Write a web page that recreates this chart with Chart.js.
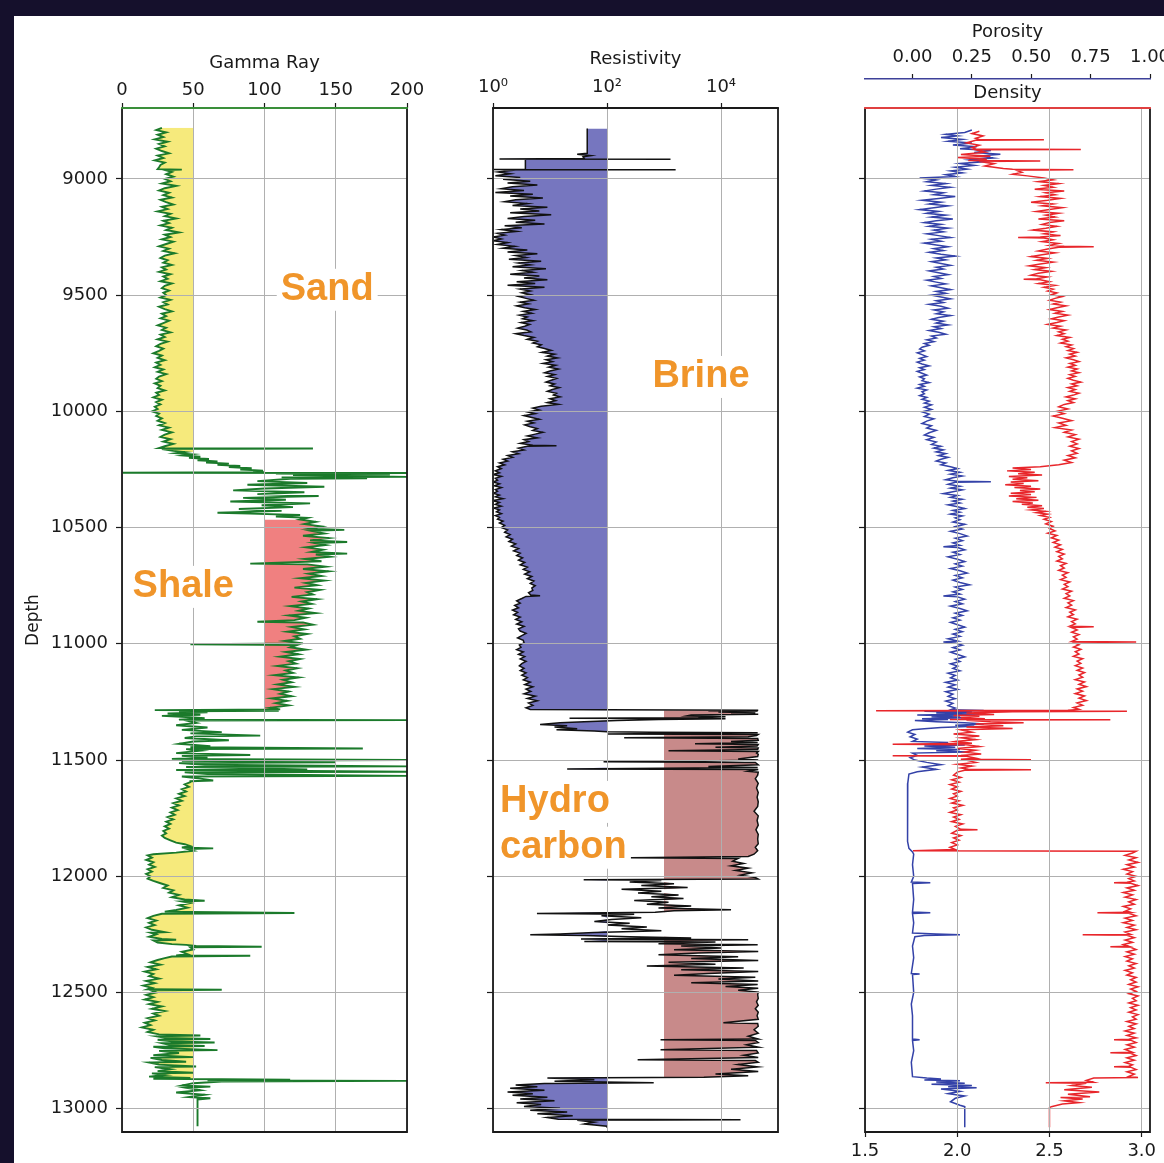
<!DOCTYPE html>
<html>
<head>
<meta charset="utf-8">
<title>Well log</title>
<script src="https://cdn.jsdelivr.net/npm/chart.js@4.4.1/dist/chart.umd.min.js"></script>
<style>
  html, body { margin: 0; width: 1164px; height: 1163px; overflow: hidden; background: #15102c; }
  #sheet { position: absolute; left: 14px; top: 16px; right: 0; bottom: 0; background: #fff; }
  canvas { position: absolute; left: 0; top: 0; }
</style>
</head>
<body>
<div id="sheet"></div>
<canvas id="grTrack" width="1200" height="1163"></canvas>
<canvas id="resTrack" width="1200" height="1163"></canvas>
<canvas id="rhoTrack" width="1200" height="1163"></canvas>
<script>
// depth window and ticks
const depthMin = 8695;
const depthMax = 13100;
const depthTicks = [9000, 9500, 10000, 10500, 11000, 11500, 12000, 12500, 13000];
const grTicks = [0, 50, 100, 150, 200];
const resTicks = [1, 100, 10000];
const resTickLabels = ['10⁰', '10²', '10⁴'];
const densTicks = [1.5, 2.0, 2.5, 3.0];
const porTicks = [0, 0.25, 0.5, 0.75, 1.0];

// shading cutoffs and zones (depth ft)
const sandCut = 50, shaleCut = 100, brineCut = 100, hcCut = 1000;
const sandZones = [[8780, 10175], [11585, 12880]];
const shaleZones = [[10460, 11284]];
const hcZones = [[11284, 12870]];

// [depth, API]
const gammaRay = [
[8780,28],[8790,24],[8800,31],[8810,25],[8820,29],[8830,23],[8840,32],[8850,26],[8860,30],[8870,24],[8880,28],[8890,33],[8900,25],[8910,29],[8920,23],[8930,30],[8940,27],[8950,26],[8958,25],[8960,42],[8962,30],[8970,35],[8980,31],[8990,36],[9000,30],[9010,34],[9020,28],[9030,38],[9040,30],[9050,26],[9060,33],[9070,29],[9080,35],[9090,27],[9100,31],[9110,36],[9120,28],[9130,32],[9140,25],[9150,34],[9160,30],[9170,38],[9180,29],[9190,33],[9200,27],[9210,35],[9220,31],[9230,40],[9240,30],[9250,34],[9260,28],[9270,36],[9280,31],[9290,26],[9300,33],[9310,29],[9320,37],[9330,30],[9340,27],[9350,32],[9360,29],[9370,35],[9380,28],[9390,31],[9400,26],[9410,34],[9420,29],[9430,32],[9440,27],[9450,35],[9460,30],[9470,28],[9480,33],[9490,29],[9500,31],[9510,27],[9520,34],[9530,29],[9540,32],[9550,26],[9560,30],[9570,35],[9580,28],[9590,31],[9600,27],[9610,33],[9620,29],[9630,25],[9640,31],[9650,28],[9660,34],[9670,27],[9680,30],[9690,25],[9700,32],[9710,27],[9720,24],[9730,29],[9740,26],[9750,22],[9760,28],[9770,25],[9780,30],[9790,24],[9800,27],[9810,23],[9820,29],[9830,25],[9840,31],[9850,26],[9860,24],[9870,28],[9880,23],[9890,27],[9900,25],[9910,30],[9920,24],[9930,26],[9940,22],[9950,28],[9960,24],[9970,27],[9980,23],[9990,25],[10000,21],[10010,26],[10020,24],[10030,28],[10040,25],[10050,30],[10060,26],[10070,33],[10080,28],[10090,35],[10100,30],[10110,27],[10120,34],[10130,29],[10140,36],[10150,30],[10158,26],[10160,134],[10162,28],
[10170,36],[10175,44],[10180,38],[10185,49],[10190,43],[10195,55],[10200,47],[10205,61],[10210,53],[10215,67],[10220,59],[10225,75],[10230,67],[10235,83],[10240,75],[10245,91],[10250,83],[10255,99],[10258,92],[10262,100],[10264,0],[10265,200],[10267,108],[10272,188],[10274,120],[10282,200],[10284,112],[10288,172],[10290,118],
[10300,95],[10308,130],[10316,88],[10324,142],[10332,100],[10340,78],[10348,128],[10356,95],[10364,138],[10372,85],[10380,115],[10388,76],[10396,132],[10404,98],[10412,120],[10420,82],[10428,112],[10436,67],[10440,90],[10446,125],[10452,108],[10458,130],
[10465,125],[10475,136],[10485,128],[10495,140],[10505,131],[10510,156],[10514,133],[10525,142],[10535,127],[10545,145],[10555,132],[10562,158],[10566,135],[10575,143],[10585,129],[10595,141],[10605,133],[10612,158],[10616,136],[10625,146],[10635,128],[10645,140],[10655,90],[10658,130],[10668,143],[10678,127],[10688,145],[10698,131],[10708,140],[10718,125],[10728,142],[10738,129],[10748,137],[10758,121],[10768,139],[10778,130],[10788,134],[10798,119],[10808,137],[10818,126],[10828,133],[10838,118],[10848,131],[10858,124],[10868,136],[10878,117],[10888,129],[10898,121],[10905,95],[10908,127],[10918,134],[10928,119],[10938,128],[10948,116],[10958,130],[10968,121],[10978,125],[10988,114],[10998,127],[11002,48],[11005,123],[11015,118],[11025,129],[11035,115],[11045,124],[11055,111],[11065,125],[11075,117],[11085,122],[11095,109],[11105,123],[11115,115],[11125,120],[11135,107],[11145,124],[11155,113],[11165,119],[11175,109],[11185,121],[11195,106],[11205,117],[11215,111],[11225,119],[11235,105],[11245,116],[11255,108],[11265,117],[11275,104],[11282,111],
[11285,23],[11288,110],[11290,40],[11295,60],[11300,32],[11305,55],[11310,28],[11315,45],[11320,58],[11326,40],[11328,200],[11330,45],[11340,52],[11350,38],[11360,60],[11370,42],[11380,70],[11385,48],[11395,97],[11398,52],[11405,44],[11415,75],[11420,50],[11430,40],[11440,62],[11445,48],[11450,169],[11453,45],[11460,55],[11470,38],[11478,90],[11482,42],[11490,60],[11495,35],[11500,200],[11503,42],[11510,150],[11513,40],[11520,58],[11527,200],[11530,45],[11540,130],[11543,38],[11550,200],[11553,44],[11560,60],[11568,200],[11571,42],[11580,55],[11588,64],[11591,48],
[11595,48],[11605,44],[11615,47],[11625,42],[11635,45],[11645,40],[11655,44],[11665,38],[11675,42],[11685,36],[11695,40],[11705,35],[11715,39],[11725,34],[11735,37],[11745,32],[11755,36],[11765,31],[11775,34],[11785,30],[11795,33],[11805,29],[11815,31],[11825,28],[11835,30],[11845,34],[11855,38],[11862,44],[11870,48],[11876,42],[11880,64],[11883,46],[11890,50],[11898,38],[11905,22],
[11910,18],[11920,21],[11930,17],[11940,22],[11950,19],[11960,23],[11970,18],[11980,21],[11990,17],[12000,20],[12010,18],[12020,22],[12030,27],[12040,32],[12050,29],[12060,36],[12070,33],[12080,40],[12090,35],[12100,44],[12105,58],[12108,42],[12115,48],[12125,40],[12135,46],[12145,38],[12152,30],[12158,121],[12161,28],
[12170,22],[12180,18],[12190,24],[12200,19],[12210,23],[12220,17],[12230,21],[12240,30],[12243,20],[12250,24],[12260,19],[12270,28],[12273,38],[12276,22],[12285,25],[12292,35],
[12295,45],[12300,52],[12303,98],[12306,48],[12315,50],[12325,42],[12335,46],[12340,38],[12342,90],[12345,35],[12352,30],
[12360,25],[12370,20],[12380,27],[12390,18],[12400,24],[12410,16],[12420,22],[12430,19],[12440,26],[12450,17],[12460,23],[12470,15],[12480,21],[12486,18],[12488,70],[12490,20],[12500,24],[12510,17],[12520,22],[12530,16],[12540,25],[12550,19],[12560,28],[12570,21],[12580,30],[12590,22],[12600,26],[12610,18],[12620,23],[12630,16],[12640,20],[12650,14],[12660,22],[12670,18],
[12680,26],[12685,55],[12688,24],[12695,30],[12700,62],[12703,25],[12710,35],[12715,65],[12718,28],[12725,33],[12730,58],[12733,22],[12740,30],[12748,67],[12751,26],[12760,40],[12770,22],[12778,50],[12781,20],[12790,28],[12798,45],[12801,19],[12810,26],[12818,52],[12821,23],[12830,34],[12838,25],[12845,50],[12848,21],[12855,30],[12862,19],[12868,48],[12871,22],
[12875,118],[12878,60],[12880,200],[12883,70],[12890,50],[12900,42],[12905,62],[12910,45],[12920,55],[12930,38],[12940,58],[12950,47],[12955,62],[12960,53],[13075,53]
];

// [depth, ohm.m]
const resistivity = [
[8783,45],[8890,45],[8894,30],[8900,52],[8905,38],[8912,40],[8914,1.3],[8915,1300],[8916,3.7],[8958,3.7],[8960,1.0],[8961,1600],[8962,2.5],[8970,1.2],[8978,2.0],[8986,1.1],[8994,3.0],
[9002,1.5],[9010,4.5],[9018,1.8],[9026,6.0],[9034,2.2],[9042,1.4],[9050,3.5],[9058,1.1],[9066,5.0],[9074,2.0],[9082,7.5],[9090,2.5],[9098,1.6],[9106,4.0],[9114,2.2],[9122,9.0],[9130,3.0],[9138,6.5],[9146,2.0],[9154,10.5],[9162,3.5],[9170,1.8],[9178,5.5],[9186,2.5],[9194,8.0],[9202,1.6],[9210,3.2],[9218,1.4],[9226,2.6],[9234,1.2],[9242,1.6],[9250,1.0],[9258,1.4],[9266,1.0],[9274,1.8],[9282,1.2],[9290,2.4],[9298,1.5],[9306,4.0],[9314,1.8],[9322,6.0],[9330,2.5],[9338,3.8],[9346,1.9],[9354,7.0],[9362,2.8],[9370,4.5],[9378,2.2],[9386,8.5],[9394,3.2],[9402,5.0],[9410,2.0],[9418,6.5],[9426,3.5],[9434,9.0],[9442,2.6],[9450,5.5],[9458,1.8],[9466,8.0],[9474,3.0],[9482,4.5],
[9490,3.2],[9498,4.5],[9506,2.8],[9514,3.8],[9522,5.2],[9530,3.0],[9538,4.2],[9546,2.6],[9554,3.6],[9562,5.5],[9570,3.4],[9578,4.8],[9586,2.9],[9594,4.0],[9602,3.3],[9610,5.0],[9618,3.1],[9626,4.4],[9634,3.6],[9642,2.7],[9650,3.9],[9658,4.6],[9666,2.5],[9674,3.5],[9682,5.2],[9690,4.0],[9698,6.0],[9706,5.0],[9714,7.0],[9722,6.0],
[9730,8.0],[9738,10.5],[9746,7.2],[9754,12.0],[9762,9.0],[9770,13.5],[9778,8.5],[9786,11.0],[9794,7.5],[9802,12.5],[9810,9.5],[9818,14.0],[9826,10.0],[9834,8.0],[9842,12.0],[9850,9.0],[9858,13.0],[9866,10.5],[9874,8.5],[9882,12.0],[9890,10.0],[9898,14.5],[9906,11.0],[9914,9.0],[9922,13.0],[9930,11.5],[9938,15.0],[9946,10.0],[9954,12.5],[9962,9.0],[9970,14.0],
[9978,7.0],[9986,5.0],[9994,6.5],[10002,4.0],[10010,5.5],[10018,3.5],[10026,4.8],[10034,6.5],[10042,4.0],[10050,5.2],[10058,3.6],[10066,4.5],[10074,6.0],[10082,5.0],[10090,7.5],[10098,5.5],[10106,4.0],[10114,6.0],[10122,3.5],[10130,4.2],[10138,3.0],[10146,5.0],[10148,13.0],[10150,4.0],
[10158,2.8],[10166,3.5],[10174,2.2],[10182,2.8],[10190,1.8],[10198,2.2],[10206,1.5],[10214,1.8],[10222,1.3],[10230,1.6],[10238,1.2],[10246,1.4],
[10256,1.1],[10264,1.3],[10272,1.0],[10280,1.4],[10288,1.1],[10296,1.2],[10304,1.0],[10312,1.3],[10320,1.05],[10328,1.4],[10336,1.1],[10344,1.2],[10352,1.0],[10360,1.3],[10368,1.1],[10376,1.5],[10384,1.0],[10392,1.3],[10400,1.1],[10408,1.4],[10416,1.05],[10424,1.3],[10432,1.15],[10440,1.4],[10448,1.1],[10456,1.3],[10464,1.2],[10472,1.5],[10480,1.3],
[10490,1.6],[10500,1.4],[10510,1.8],[10520,1.6],[10530,2.0],[10540,1.7],[10550,2.2],[10560,1.9],[10570,2.5],[10580,2.1],[10590,2.8],[10600,2.3],[10610,3.0],[10620,2.6],[10630,3.3],[10640,2.8],[10650,3.6],[10660,3.0],[10670,4.0],[10680,3.4],[10690,4.4],[10700,3.6],[10710,4.8],[10720,4.0],[10730,5.2],[10740,4.5],[10750,5.5],[10760,4.8],[10770,5.0],[10780,4.2],[10790,4.6],[10793,6.7],[10796,3.8],
[10805,3.2],[10815,2.6],[10825,3.0],[10835,2.4],[10845,2.8],[10855,2.2],[10865,2.7],[10875,2.3],[10885,3.0],[10895,2.5],[10905,3.2],[10915,2.6],[10925,3.5],[10935,2.8],[10945,3.0],[10955,3.8],[10965,3.2],[10975,2.7],[10985,3.4],
[10995,3.5],[11005,2.9],[11015,3.1],[11025,2.6],[11035,3.4],[11045,2.8],[11055,3.6],[11065,3.0],[11075,3.8],[11085,3.2],[11095,2.9],[11105,3.5],[11115,3.0],[11125,3.8],[11135,3.2],[11145,4.0],[11155,3.4],[11165,4.5],[11175,3.6],[11185,5.0],[11195,3.8],[11205,4.6],[11215,3.5],[11225,5.5],[11235,4.0],[11245,6.0],[11255,4.2],[11265,5.0],[11275,3.8],[11282,4.5],
[11286,45000],[11288,6000],[11290,44000],[11293,9000],[11296,40000],[11300,15000],[11303,45000],[11306,3000],[11310,2500],[11314,12000],[11318,4000],[11320,22],[11322,12000],[11326,800],
[11330,150],[11335,40],[11340,15],[11347,6.7],[11352,20],[11358,12],[11365,30],[11370,13],[11375,60],[11378,100],
[11380,600],[11382,44000],[11388,100],[11390,45000],[11395,42000],[11400,30000],[11404,200],[11407,44000],[11415,45000],[11420,15000],[11425,44000],[11430,3500],[11433,45000],[11440,43000],[11445,8000],[11448,45000],[11455,44000],[11460,1200],[11463,45000],[11470,42000],[11475,45000],
[11485,44000],[11495,20000],[11500,45000],[11505,3000],[11507,87],[11510,40000],[11520,45000],[11528,6000],[11532,44000],[11538,20],[11541,45000],[11548,30000],[11552,45000],
[11565,44000],[11580,40000],[11600,45000],[11620,42000],[11640,45000],[11660,43000],[11680,45000],[11700,44000],[11720,38000],[11740,45000],[11760,43000],[11780,45000],[11800,41000],[11820,45000],[11840,44000],[11860,45000],[11875,40000],[11890,44000],[11905,38000],
[11915,30000],[11920,260],[11923,20000],[11935,16000],[11945,25000],[11955,15000],[11965,30000],[11975,18000],[11985,35000],[11995,22000],[12005,40000],[12012,45000],
[12015,39],[12018,900],[12025,250],[12032,1500],[12040,400],[12048,2600],[12056,180],[12064,900],[12072,350],[12080,1800],[12088,600],[12096,2200],[12104,300],[12112,1200],[12120,500],[12128,3000],[12136,800],[12144,15000],[12148,1500],[12155,700],
[12160,5.9],[12163,300],[12170,80],[12178,400],[12186,120],[12194,60],[12202,250],[12210,100],[12218,500],[12226,180],[12234,900],[12242,60],[12248,15],[12252,4.5],[12255,40],[12260,250],
[12265,3000],[12270,35],[12273,30000],[12280,40],[12283,8000],[12290,800],[12295,44000],[12300,2000],[12308,10000],[12316,1500],[12324,45000],[12330,4000],[12338,800],[12346,20000],[12354,3000],[12362,45000],[12370,1200],[12378,8000],[12386,500],[12394,25000],[12402,2000],[12410,45000],[12418,6000],[12426,1500],[12434,40000],[12442,9000],[12450,45000],[12458,3000],[12466,44000],[12474,12000],[12482,45000],[12490,20000],[12498,45000],
[12510,44000],[12525,45000],[12540,42000],[12555,45000],[12570,40000],[12585,45000],[12600,43000],[12615,45000],[12630,11000],[12633,44000],[12645,45000],[12660,38000],[12675,45000],[12688,30000],[12700,45000],[12703,870],[12706,40000],[12715,45000],[12725,28000],[12735,45000],[12746,870],[12749,42000],[12760,45000],[12770,25000],[12780,45000],[12789,345],[12792,40000],[12800,45000],[12810,20000],[12820,44000],[12830,15000],[12840,45000],[12850,8000],[12858,30000],[12865,5000],
[12868,9],[12875,60],[12882,12],[12888,660],[12891,8],[12898,2.5],[12905,6],[12912,2.0],[12920,8],[12928,1.8],[12935,5],[12942,2.2],[12950,9],[12958,3.0],[12966,12],[12974,2.6],[12982,7],[12990,3.5],[12998,15],[13006,4.5],[13014,20],[13022,6],[13030,25],[13038,9],[13045,14],[13047,22000],[13049,30],[13058,60],[13066,40],[13075,100],[13082,100]
];

// [depth, v/v]
const porosity = [
[8790,0.25],[8800,0.22],[8808,0.14],[8815,0.19],[8822,0.12],[8830,0.21],[8838,0.15],[8846,0.25],[8854,0.17],[8862,0.27],[8870,0.20],[8878,0.33],[8886,0.26],[8894,0.37],[8902,0.28],[8910,0.34],[8918,0.24],[8926,0.30],[8934,0.20],[8942,0.26],[8950,0.18],[8958,0.23],[8966,0.16],[8974,0.21],[8982,0.14],[8990,0.18],[8996,0.03],[9004,0.10],
[9012,0.06],[9020,0.14],[9028,0.08],[9036,0.16],[9044,0.10],[9052,0.05],[9060,0.13],[9068,0.09],[9076,0.18],[9084,0.11],[9092,0.04],[9100,0.12],[9108,0.07],[9116,0.15],[9124,0.09],[9132,0.03],[9140,0.11],[9148,0.06],[9156,0.14],[9164,0.08],[9172,0.17],[9180,0.10],[9188,0.05],[9196,0.12],[9204,0.07],[9212,0.15],[9220,0.09],[9228,0.13],[9236,0.06],[9244,0.11],[9252,0.16],[9260,0.08],[9268,0.12],[9276,0.05],[9284,0.10],[9292,0.15],[9300,0.09],[9308,0.13],[9316,0.07],[9324,0.12],[9332,0.18],[9340,0.10],[9348,0.14],[9356,0.08],[9364,0.12],[9372,0.16],[9380,0.10],[9388,0.13],[9396,0.07],[9404,0.11],[9412,0.15],[9420,0.09],[9428,0.12],[9436,0.06],[9444,0.10],[9452,0.14],[9460,0.08],[9468,0.12],[9476,0.16],
[9484,0.10],[9492,0.14],[9500,0.08],[9508,0.12],[9516,0.16],[9524,0.10],[9532,0.13],[9540,0.07],[9548,0.12],[9556,0.15],[9564,0.09],[9572,0.13],[9580,0.10],[9588,0.16],[9596,0.11],[9604,0.08],[9612,0.13],[9620,0.10],[9628,0.15],[9636,0.09],[9644,0.12],[9652,0.07],[9660,0.11],[9668,0.14],[9676,0.08],[9684,0.10],[9692,0.06],[9700,0.09],[9708,0.05],[9716,0.07],[9724,0.04],
[9732,0.03],[9740,0.05],[9748,0.02],[9756,0.04],[9764,0.06],[9772,0.03],[9780,0.05],[9788,0.02],[9796,0.04],[9804,0.07],[9812,0.03],[9820,0.05],[9828,0.02],[9836,0.04],[9844,0.06],[9852,0.03],[9860,0.05],[9868,0.04],[9876,0.07],[9884,0.03],[9892,0.05],[9900,0.02],[9908,0.06],[9916,0.04],[9924,0.05],[9932,0.03],[9940,0.06],[9948,0.04],[9956,0.07],[9964,0.05],[9972,0.08],
[9982,0.05],[9992,0.08],[10002,0.04],[10012,0.07],[10022,0.05],[10032,0.09],[10042,0.06],[10052,0.04],[10062,0.08],[10072,0.06],[10082,0.10],[10092,0.07],[10102,0.05],[10112,0.09],[10122,0.06],[10132,0.10],
[10142,0.08],[10150,0.12],[10158,0.09],[10166,0.13],[10174,0.10],[10182,0.14],[10190,0.11],[10198,0.15],[10206,0.12],[10214,0.10],[10222,0.14],[10230,0.12],[10238,0.16],
[10246,0.19],[10254,0.15],[10262,0.20],[10270,0.16],[10278,0.21],[10286,0.17],[10294,0.14],[10301,0.19],[10303,0.33],[10305,0.18],[10314,0.15],[10322,0.20],[10330,0.16],[10338,0.21],[10346,0.17],[10354,0.13],[10362,0.19],[10370,0.16],[10378,0.21],[10386,0.17],[10394,0.20],[10402,0.15],[10410,0.19],[10418,0.22],[10426,0.17],[10434,0.20],[10442,0.16],[10450,0.21],[10458,0.18],[10466,0.20],
[10476,0.17],[10486,0.22],[10496,0.18],[10506,0.21],[10516,0.16],[10526,0.20],[10536,0.23],[10546,0.18],[10556,0.21],[10566,0.17],[10576,0.20],[10582,0.13],[10586,0.19],[10596,0.22],[10606,0.17],[10616,0.20],[10626,0.15],[10636,0.19],[10646,0.22],[10656,0.18],[10666,0.21],[10676,0.16],[10686,0.20],[10696,0.23],[10706,0.18],[10716,0.21],[10726,0.17],[10736,0.20],[10746,0.24],[10756,0.18],[10766,0.21],[10776,0.17],[10786,0.20],[10794,0.13],[10798,0.19],[10808,0.22],[10818,0.18],[10828,0.21],[10838,0.16],[10848,0.20],[10858,0.23],[10868,0.18],[10878,0.21],[10888,0.17],[10898,0.20],[10908,0.16],[10918,0.19],[10928,0.22],[10938,0.18],[10948,0.21],[10958,0.17],[10968,0.20],[10978,0.15],[10988,0.19],[10992,0.13],[10996,0.18],[11006,0.21],[11016,0.17],[11026,0.20],[11036,0.16],[11046,0.19],[11056,0.22],[11066,0.18],[11076,0.20],[11086,0.16],[11096,0.19],[11106,0.17],[11116,0.20],[11126,0.15],[11136,0.18],[11146,0.16],[11156,0.19],[11166,0.14],[11176,0.18],[11186,0.15],[11196,0.19],[11206,0.14],[11216,0.17],[11226,0.15],[11236,0.18],[11246,0.14],[11256,0.17],[11266,0.15],[11276,0.18],[11284,0.16],
[11287,0.30],[11290,0.05],[11294,0.25],[11298,0.10],[11302,0.28],[11306,0.02],[11310,0.20],[11314,0.08],[11318,0.24],[11322,0.04],[11326,0.15],[11330,0.01],[11335,0.10],[11340,0.22],[11345,0.30],[11350,0.18],[11355,0.26],[11360,0.12],[11365,0.05],[11370,0.0],
[11380,-0.02],[11390,0.01],[11400,-0.01],[11410,0.02],[11420,0.0],[11425,0.15],[11430,0.08],[11435,0.22],[11440,0.05],[11445,0.18],[11450,0.02],[11455,0.20],[11460,0.10],[11465,0.23],[11470,0.0],[11480,0.02],[11490,-0.01],[11500,0.01],
[11510,0.06],[11520,0.12],[11530,0.04],[11540,0.10],[11550,0.02],
[11560,-0.015],[11600,-0.02],[11650,-0.022],[11700,-0.02],[11750,-0.022],[11800,-0.02],[11850,-0.02],[11880,-0.015],[11895,0.0],[11905,0.005],
[11950,0.0],[12000,0.005],[12025,-0.005],[12028,0.075],[12031,0.0],[12100,0.005],[12154,0.0],[12157,0.075],[12160,0.0],[12200,0.005],[12244,0.0],[12248,0.10],[12252,0.20],[12255,0.05],[12260,0.01],[12300,0.0],[12350,0.005],[12418,-0.005],[12420,0.03],[12422,0.0],[12500,0.005],[12550,-0.005],[12600,0.0],[12650,0.0],[12700,0.0],[12703,0.03],[12706,0.0],[12750,0.005],[12800,-0.005],[12862,0.0],
[12868,0.06],[12872,0.12],[12876,0.05],[12880,0.20],[12885,0.10],[12890,0.22],[12895,0.08],[12900,0.25],[12905,0.15],[12910,0.27],[12915,0.12],[12925,0.20],[12935,0.15],[12945,0.22],[12955,0.18],[12970,0.16],[12985,0.20],[12991,0.22],[13080,0.22]
];

// [depth, g/cc]
const density = [
[8795,2.12],[8805,2.08],[8815,2.14],[8825,2.10],[8830,2.12],[8832,2.47],[8834,2.10],[8845,2.05],[8855,2.12],[8865,2.08],[8871,2.10],[8873,2.67],[8875,2.10],[8885,2.15],[8895,2.02],[8903,2.18],[8908,2.00],[8915,2.16],[8921,2.06],[8923,2.45],[8925,2.12],[8935,2.20],[8945,2.15],[8955,2.25],[8959,2.30],[8961,2.63],[8963,2.32],[8972,2.35],[8980,2.30],[8987,2.38],[8996,2.47],
[9004,2.52],[9012,2.44],[9020,2.55],[9028,2.47],[9036,2.52],[9044,2.42],[9052,2.58],[9060,2.48],[9068,2.53],[9076,2.45],[9084,2.56],[9092,2.49],[9100,2.40],[9108,2.52],[9116,2.46],[9124,2.57],[9132,2.50],[9140,2.43],[9148,2.55],[9156,2.48],[9164,2.53],[9172,2.44],[9180,2.58],[9188,2.50],[9196,2.46],[9204,2.54],[9212,2.48],[9220,2.41],[9228,2.52],[9236,2.47],[9244,2.56],[9250,2.45],[9252,2.33],[9254,2.47],[9262,2.52],[9270,2.46],[9278,2.55],[9286,2.50],[9290,2.58],[9292,2.74],[9294,2.55],[9302,2.49],[9310,2.44],[9318,2.53],[9326,2.46],[9334,2.40],[9342,2.49],[9350,2.43],[9358,2.52],[9366,2.45],[9374,2.39],[9382,2.48],[9390,2.42],[9398,2.51],[9406,2.44],[9414,2.40],[9422,2.49],[9430,2.43],[9432,2.36],[9434,2.45],[9442,2.50],[9450,2.44],[9458,2.53],[9466,2.47],[9474,2.52],[9482,2.49],
[9490,2.54],[9498,2.51],[9506,2.57],[9514,2.53],[9522,2.50],[9530,2.56],[9538,2.52],[9546,2.59],[9554,2.54],[9562,2.50],[9570,2.57],[9578,2.53],[9586,2.60],[9594,2.55],[9602,2.51],[9610,2.58],[9618,2.54],[9626,2.49],[9634,2.56],[9642,2.52],[9650,2.59],[9658,2.55],[9666,2.58],[9674,2.54],[9682,2.61],[9690,2.57],[9698,2.60],[9706,2.56],[9714,2.62],[9722,2.59],
[9730,2.63],[9738,2.60],[9746,2.65],[9754,2.61],[9762,2.64],[9770,2.59],[9778,2.63],[9786,2.66],[9794,2.61],[9802,2.64],[9810,2.60],[9818,2.65],[9826,2.62],[9834,2.66],[9842,2.61],[9850,2.64],[9858,2.60],[9866,2.63],[9874,2.67],[9882,2.62],[9890,2.65],[9898,2.60],[9906,2.64],[9914,2.61],[9922,2.66],[9930,2.63],[9938,2.59],[9946,2.64],[9954,2.60],[9962,2.63],[9970,2.58],
[9980,2.55],[9990,2.60],[10000,2.54],[10010,2.58],[10020,2.52],[10030,2.57],[10040,2.62],[10050,2.55],[10060,2.59],[10070,2.53],[10080,2.62],[10090,2.58],[10100,2.64],[10110,2.60],[10120,2.66],[10130,2.62],
[10140,2.65],[10150,2.61],[10160,2.66],[10170,2.62],[10180,2.65],[10190,2.60],[10200,2.64],[10210,2.58],[10220,2.62],[10230,2.55],
[10238,2.45],[10244,2.30],[10250,2.40],[10256,2.27],[10262,2.42],[10268,2.33],[10274,2.46],[10280,2.28],[10286,2.38],[10292,2.30],[10298,2.44],[10304,2.29],[10310,2.36],[10316,2.26],[10322,2.40],[10328,2.31],[10334,2.45],[10340,2.34],[10346,2.42],[10352,2.29],[10358,2.40],[10364,2.28],[10370,2.43],[10376,2.32],[10382,2.44],[10388,2.30],[10394,2.41],[10400,2.35],[10406,2.46],[10412,2.38],[10418,2.47],[10424,2.40],[10430,2.48],[10436,2.43],[10442,2.49],[10448,2.45],[10456,2.50],[10464,2.47],
[10474,2.51],[10484,2.48],[10494,2.52],[10504,2.50],[10514,2.53],[10524,2.49],[10534,2.54],[10544,2.51],[10554,2.55],[10564,2.52],[10574,2.56],[10584,2.53],[10594,2.57],[10604,2.54],[10614,2.58],[10624,2.55],[10634,2.57],[10644,2.54],[10654,2.59],[10664,2.56],[10674,2.58],[10684,2.55],[10694,2.60],[10704,2.57],[10714,2.59],[10724,2.56],[10734,2.61],[10744,2.58],[10754,2.60],[10764,2.57],[10774,2.62],[10784,2.59],[10794,2.61],[10804,2.58],[10814,2.63],[10824,2.60],[10834,2.62],[10844,2.59],[10854,2.64],[10864,2.61],[10874,2.63],[10884,2.60],[10894,2.65],[10904,2.62],[10914,2.64],[10924,2.61],[10927,2.74],[10930,2.62],[10940,2.65],[10950,2.62],[10960,2.66],[10970,2.63],[10980,2.65],[10990,2.62],[10992,2.97],[10994,2.63],[11004,2.66],[11014,2.63],[11024,2.67],[11034,2.64],[11044,2.66],[11054,2.63],[11064,2.68],[11074,2.65],[11084,2.67],[11094,2.64],[11104,2.68],[11114,2.65],[11124,2.69],[11134,2.66],[11144,2.68],[11154,2.64],[11164,2.69],[11174,2.66],[11184,2.70],[11194,2.65],[11204,2.68],[11214,2.64],[11224,2.69],[11234,2.66],[11244,2.70],[11254,2.65],[11264,2.68],[11274,2.63],[11282,2.66],
[11286,2.60],[11288,1.56],[11290,2.92],[11292,2.30],[11298,2.05],[11304,2.20],[11308,1.98],[11312,2.12],[11318,2.02],[11322,2.15],[11326,1.96],[11327,2.83],[11329,2.05],[11335,2.18],[11340,2.36],[11345,2.10],[11352,2.25],[11358,2.05],[11364,2.30],[11370,2.02],
[11380,2.08],[11388,1.98],[11396,2.12],[11404,2.02],[11412,2.10],[11420,1.99],[11428,2.08],[11432,1.65],[11434,2.05],[11442,2.12],[11450,2.00],[11458,2.10],[11466,2.04],[11474,2.13],[11480,2.02],[11482,1.65],[11484,2.05],[11492,2.10],[11497,2.02],[11499,2.40],[11501,2.05],[11510,2.10],[11518,2.00],[11526,2.08],[11534,2.02],[11540,2.06],[11542,2.40],[11544,2.04],[11552,2.00],
[11565,1.98],[11575,2.02],[11585,1.97],[11595,2.01],[11605,1.96],[11615,2.00],[11625,1.97],[11635,2.02],[11645,1.98],[11655,2.00],[11665,1.96],[11675,2.01],[11685,1.97],[11695,2.03],[11705,1.98],[11715,2.00],[11725,1.96],[11735,2.02],[11745,1.98],[11755,2.01],[11765,1.97],[11775,2.03],[11785,1.99],[11798,2.02],[11800,2.11],[11802,2.00],[11815,1.97],[11825,2.02],[11835,1.98],[11845,2.01],[11855,1.97],[11865,2.00],[11875,1.96],[11885,1.99],[11890,1.76],[11892,2.97],
[11900,2.95],[11910,2.91],[11920,2.97],[11930,2.93],[11940,2.98],[11950,2.92],[11960,2.96],[11970,2.90],[11980,2.95],[11990,2.92],[12000,2.97],[12010,2.93],[12020,2.96],[12026,2.92],[12028,2.85],[12030,2.94],[12040,2.98],[12050,2.92],[12060,2.96],[12070,2.90],[12080,2.95],[12090,2.91],[12100,2.97],[12110,2.93],[12120,2.96],[12130,2.90],[12140,2.94],[12150,2.91],[12155,2.94],[12157,2.76],[12159,2.93],[12170,2.97],[12180,2.91],[12190,2.95],[12200,2.90],[12210,2.96],[12220,2.92],[12230,2.97],[12240,2.91],[12250,2.94],[12252,2.68],[12254,2.92],[12264,2.96],[12274,2.91],[12284,2.95],[12294,2.90],[12301,2.93],[12303,2.83],[12305,2.94],[12315,2.97],[12325,2.92],[12335,2.96],[12345,2.91],[12355,2.95],[12365,2.92],[12375,2.97],[12385,2.93],[12395,2.96],[12405,2.91],[12415,2.95],[12425,2.92],[12435,2.97],
[12445,2.94],[12455,2.97],[12465,2.93],[12475,2.98],[12485,2.94],[12495,2.97],[12505,2.93],[12515,2.98],[12525,2.95],[12535,2.97],[12545,2.93],[12555,2.98],[12565,2.94],[12575,2.97],[12585,2.93],[12595,2.98],[12605,2.95],[12615,2.97],[12625,2.92],[12635,2.97],[12645,2.93],[12655,2.96],[12665,2.91],[12675,2.96],[12685,2.92],[12695,2.97],[12701,2.93],[12703,2.85],[12705,2.94],[12715,2.97],[12725,2.92],[12735,2.96],[12745,2.91],[12757,2.95],[12759,2.83],[12761,2.94],[12771,2.97],[12781,2.92],[12791,2.96],[12801,2.91],[12811,2.95],[12817,2.93],[12819,2.85],[12821,2.94],[12831,2.97],[12841,2.92],[12851,2.96],[12861,2.93],[12866,2.98],
[12868,2.74],[12878,2.70],[12886,2.74],[12888,2.48],[12890,2.70],[12900,2.62],[12908,2.73],[12918,2.58],[12928,2.77],[12938,2.60],[12948,2.72],[12952,2.56],[12958,2.68],[12966,2.58],[12974,2.66],[12980,2.57],[12991,2.51],[12995,2.50],[13080,2.50]
];

// zone names written on the tracks
const grNotes = [
  { text: 'Sand', at: 144, depth: 9477, align: 'center' },
  { text: 'Shale', at: 43, depth: 10755, align: 'center' }
];
const resNotes = [
  { text: 'Brine', at: 4450, depth: 9852, align: 'center' },
  { text: 'Hydro', at: 1.33, depth: 11680, align: 'left' },
  { text: 'carbon', at: 1.33, depth: 11877, align: 'left' }
];

Chart.defaults.font.family = "'DejaVu Sans', sans-serif";
Chart.defaults.font.size = 18;
Chart.defaults.color = '#1a1a1a';

const gridGrey = '#b0b0b0';
const ink = '#1a1a1a';

const toPoints = rows => rows.map(([d, v]) => ({ x: v, y: d }));

function curve(rows, color, width, axis) {
  return { data: toPoints(rows), xAxisID: axis, yAxisID: 'depth', borderColor: color,
           borderWidth: width, pointRadius: 0, fill: false };
}

// clipped copy of a curve, filled against the cutoff line
function shade(rows, zone, clipTo, cutoff, color, axis) {
  const pts = rows.filter(r => r[0] >= zone[0] && r[0] <= zone[1])
                  .map(([d, v]) => ({ x: clipTo(v), y: d }));
  return { data: pts, xAxisID: axis, yAxisID: 'depth', borderColor: 'rgba(0,0,0,0)',
           borderWidth: 0, pointRadius: 0, backgroundColor: color, fill: { value: cutoff } };
}

function depthAxis(labelled) {
  return {
    type: 'linear', axis: 'y', position: 'left', reverse: true, min: depthMin, max: depthMax,
    afterBuildTicks: s => { s.ticks = depthTicks.map(v => ({ value: v })); },
    afterFit: s => { s.width = labelled ? 122 : 30; },
    grid: { color: gridGrey, tickColor: ink, tickLength: 6, tickWidth: 1.2, z: 1 },
    border: { display: false },
    ticks: { display: labelled, padding: 8, autoSkip: false, callback: v => String(v) },
    title: { display: labelled, text: 'Depth', font: { size: 17 }, padding: { top: 23, bottom: 0 } }
  };
}

// spines around the plotting area, top edge in the track colour
const frame = {
  id: 'frame',
  afterDraw(chart, args, opts) {
    const { ctx, chartArea: a } = chart;
    ctx.save();
    ctx.lineWidth = 1.8;
    ctx.strokeStyle = ink;
    ctx.beginPath();
    ctx.moveTo(a.left, a.top);
    ctx.lineTo(a.left, a.bottom);
    ctx.lineTo(a.right, a.bottom);
    ctx.lineTo(a.right, a.top);
    ctx.stroke();
    ctx.strokeStyle = opts.top || ink;
    ctx.beginPath();
    ctx.moveTo(a.left - 0.9, a.top);
    ctx.lineTo(a.right + 0.9, a.top);
    ctx.stroke();
    ctx.restore();
  }
};

const zoneText = {
  id: 'zoneText',
  afterDraw(chart, args, opts) {
    if (!opts.items) return;
    const { ctx } = chart;
    const xs = chart.scales[opts.axis];
    const ys = chart.scales.depth;
    ctx.save();
    ctx.font = 'bold 38px "Liberation Sans", Arial, sans-serif';
    ctx.textBaseline = 'middle';
    ctx.textAlign = 'left';
    opts.items.forEach(it => {
      const x = xs.getPixelForValue(it.at);
      const y = ys.getPixelForValue(it.depth);
      const w = ctx.measureText(it.text).width;
      const left = it.align === 'left' ? x : x - w / 2;
      ctx.fillStyle = '#ffffff';
      ctx.fillRect(left - 4, y - 21, w + 8, 42);
      ctx.fillStyle = '#f0952a';
      ctx.fillText(it.text, left, y);
    });
    ctx.restore();
  }
};

function commonOptions(padding, scales, topColor, notes, noteAxis) {
  return {
    responsive: false,
    animation: false,
    indexAxis: 'y',
    layout: { padding },
    scales,
    plugins: {
      legend: { display: false },
      tooltip: { enabled: false },
      frame: { top: topColor },
      zoneText: { items: notes, axis: noteAxis }
    }
  };
}

// gamma ray track
new Chart(document.getElementById('grTrack'), {
  type: 'line',
  data: {
    datasets: [
      curve(gammaRay, '#1b7a2b', 1.9, 'gr'),
      ...sandZones.map(z => shade(gammaRay, z, v => Math.min(v, sandCut), sandCut, '#f6ea7c', 'gr')),
      ...shaleZones.map(z => shade(gammaRay, z, v => Math.max(v, shaleCut), shaleCut, '#f08080', 'gr'))
    ]
  },
  options: commonOptions({ left: 0, top: 0, right: 793, bottom: 31 }, {
    depth: depthAxis(true),
    gr: {
      type: 'linear', axis: 'x', position: 'top', min: 0, max: 200,
      afterBuildTicks: s => { s.ticks = grTicks.map(v => ({ value: v })); },
      afterFit: s => { s.height = 108; },
      grid: { color: gridGrey, tickColor: ink, tickLength: 5, tickWidth: 1.2, z: 1 },
      border: { display: false },
      ticks: { padding: 2, autoSkip: false, maxRotation: 0 },
      title: { display: true, text: 'Gamma Ray', padding: { top: 53, bottom: 0 } }
    }
  }, '#3a8f3a', grNotes, 'gr'),
  plugins: [frame, zoneText]
});

// resistivity track
new Chart(document.getElementById('resTrack'), {
  type: 'line',
  data: {
    datasets: [
      curve(resistivity, '#111111', 1.5, 'res'),
      shade(resistivity, [8700, 13100], v => Math.min(v, brineCut), brineCut, '#7676bf', 'res'),
      ...hcZones.map(z => shade(resistivity, z, v => Math.max(v, hcCut), hcCut, '#c88a8a', 'res'))
    ]
  },
  options: commonOptions({ left: 463, top: 0, right: 422, bottom: 31 }, {
    depth: depthAxis(false),
    res: {
      type: 'logarithmic', axis: 'x', position: 'top', min: 1, max: 100000,
      afterBuildTicks: s => { s.ticks = resTicks.map(v => ({ value: v })); },
      afterFit: s => { s.height = 108; },
      grid: { color: gridGrey, tickColor: ink, tickLength: 5, tickWidth: 1.2, z: 1 },
      border: { display: false },
      ticks: { padding: 5, autoSkip: false, maxRotation: 0,
               callback: v => resTickLabels[resTicks.indexOf(v)] ?? '' },
      title: { display: true, text: 'Resistivity', padding: { top: 49, bottom: 0 } }
    }
  }, ink, resNotes, 'res'),
  plugins: [frame, zoneText]
});

// density / porosity track
new Chart(document.getElementById('rhoTrack'), {
  type: 'line',
  data: {
    datasets: [
      curve(density, '#e8262b', 1.5, 'dens'),
      curve(porosity, '#3442a8', 1.5, 'por')
    ]
  },
  options: commonOptions({ left: 835, top: 0, right: 50, bottom: 0 }, {
    depth: depthAxis(false),
    dens: {
      type: 'linear', axis: 'x', position: 'bottom', min: 1.5, max: 3.045,
      afterBuildTicks: s => { s.ticks = densTicks.map(v => ({ value: v })); },
      afterFit: s => { s.height = 31; },
      grid: { color: gridGrey, tickColor: ink, tickLength: 5, tickWidth: 1.2, z: 1 },
      border: { display: false },
      ticks: { padding: 4, autoSkip: false, maxRotation: 0, callback: v => v.toFixed(1) }
    },
    densTitle: {
      type: 'linear', axis: 'x', position: 'top', weight: 1, min: 1.5, max: 3.045,
      afterFit: s => { s.height = 29; },
      grid: { display: false },
      border: { display: false },
      ticks: { display: false },
      title: { display: true, text: 'Density', padding: { top: 4, bottom: 0 } }
    },
    por: {
      type: 'linear', axis: 'x', position: 'top', weight: 2, min: -0.2, max: 1.0,
      afterBuildTicks: s => { s.ticks = porTicks.map(v => ({ value: v })); },
      afterFit: s => { s.height = 79; },
      grid: { drawOnChartArea: false, tickColor: ink, tickLength: 5, tickWidth: 1.2 },
      border: { display: true, color: '#3d4199', width: 1.6 },
      ticks: { padding: 6, autoSkip: false, maxRotation: 0, callback: v => v.toFixed(2) },
      title: { display: true, text: 'Porosity', padding: { top: 22, bottom: 0 } }
    }
  }, '#e04040', null, 'dens'),
  plugins: [frame, zoneText]
});
</script>
</body>
</html>
